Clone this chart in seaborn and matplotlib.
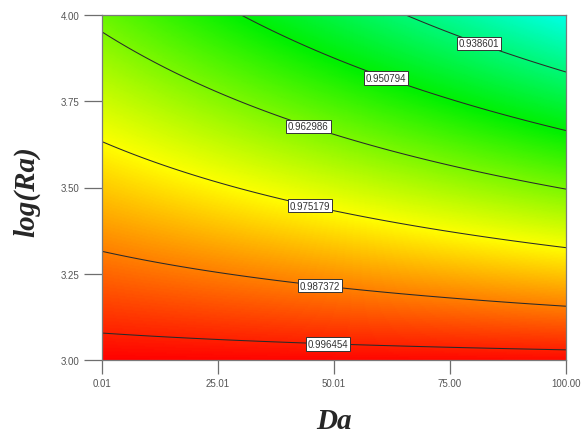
import numpy as np
import matplotlib
matplotlib.use("Agg")
import matplotlib.pyplot as plt
from matplotlib.colors import Normalize
import seaborn as sns

# Factor ranges and axis ticks
da_range = [0.01, 100.00]
lra_range = [3.00, 4.00]
da_ticks = [0.01, 25.01, 50.01, 75.00, 100.00]
lra_ticks = [3.00, 3.25, 3.50, 3.75, 4.00]

# Two-factor-interaction model in coded units: A = Da, B = log(Ra)
model_terms = ["Intercept", "A", "B", "AB"]
model_coefs = [0.971465, -0.008815, -0.027545, -0.008375]

# Contour levels and where their labels sit
contour_levels = [0.938601, 0.950794, 0.962986, 0.975179, 0.987372, 0.996454]
label_da = [81.5, 61.6, 44.8, 45.0, 47.0, 48.7]
label_lra = [3.93, 3.83, 3.69, 3.46, 3.22, 3.05]

# Colour scale: blue (low) -> cyan -> green -> yellow -> red (high)
color_range = [0.9026, 0.9996]
color_stops = ["#0000ff", "#00ffe6", "#00f000", "#ffff00", "#ff0000"]

sns.set_style("white")
plt.rcParams["font.family"] = ["Liberation Sans", "DejaVu Sans"]

fig = plt.figure(figsize=(5.81, 4.39), dpi=100)
ax = fig.add_axes([102 / 581, 1 - 361 / 439, 464 / 581, 345 / 439])

da = np.linspace(da_range[0], da_range[1], 300)
lra = np.linspace(lra_range[0], lra_range[1], 300)
DA, LRA = np.meshgrid(da, lra)
A = (DA - (da_range[0] + da_range[1]) / 2) / ((da_range[1] - da_range[0]) / 2)
B = (LRA - (lra_range[0] + lra_range[1]) / 2) / ((lra_range[1] - lra_range[0]) / 2)
b0, bA, bB, bAB = model_coefs
Z = b0 + bA * A + bB * B + bAB * A * B

cmap = sns.blend_palette(color_stops, as_cmap=True)
norm = Normalize(vmin=color_range[0], vmax=color_range[1])
ax.pcolormesh(DA, LRA, Z, cmap=cmap, norm=norm, shading="gouraud", rasterized=True)

cs = ax.contour(DA, LRA, Z, levels=contour_levels, colors="#2a2a2a", linewidths=0.75)
fmt = {lvl: f"{lvl:.6f}" for lvl in contour_levels}
labels = ax.clabel(cs, levels=contour_levels, fmt=fmt, inline=False, fontsize=7,
                   manual=list(zip(label_da, label_lra)), colors="#333333")
for t in labels:
    t.set_rotation(0)
    t.set_bbox(dict(boxstyle="square,pad=0.18", facecolor="white",
                    edgecolor="#333333", linewidth=0.7))
    t.set_zorder(5)

ax.set_xlim(da_range)
ax.set_ylim(lra_range)
ax.set_xticks(da_ticks)
ax.set_xticklabels([f"{v:.2f}" for v in da_ticks])
ax.set_yticks(lra_ticks)
ax.set_yticklabels([f"{v:.2f}" for v in lra_ticks])
ax.tick_params(axis="both", which="major", bottom=True, left=True, top=False, right=False,
               direction="out", length=10, width=0.9, color="#6e6e6e",
               labelsize=7, labelcolor="#555555", pad=3)
ax.tick_params(axis="y", length=13)
for sp in ax.spines.values():
    sp.set_color("#7a7a7a")
    sp.set_linewidth(0.9)

label_font = dict(family="Liberation Serif", fontsize=21, fontweight="bold", fontstyle="italic")
ax.set_xlabel("Da", **label_font)
ax.set_ylabel("log(Ra)", **label_font)
ax.xaxis.set_label_coords(0.5, -0.174)
ax.xaxis.label.set_va("center")
ax.yaxis.set_label_coords(-0.163, 0.49)
ax.yaxis.label.set_va("center")

fig.savefig("out.png", dpi=100)
